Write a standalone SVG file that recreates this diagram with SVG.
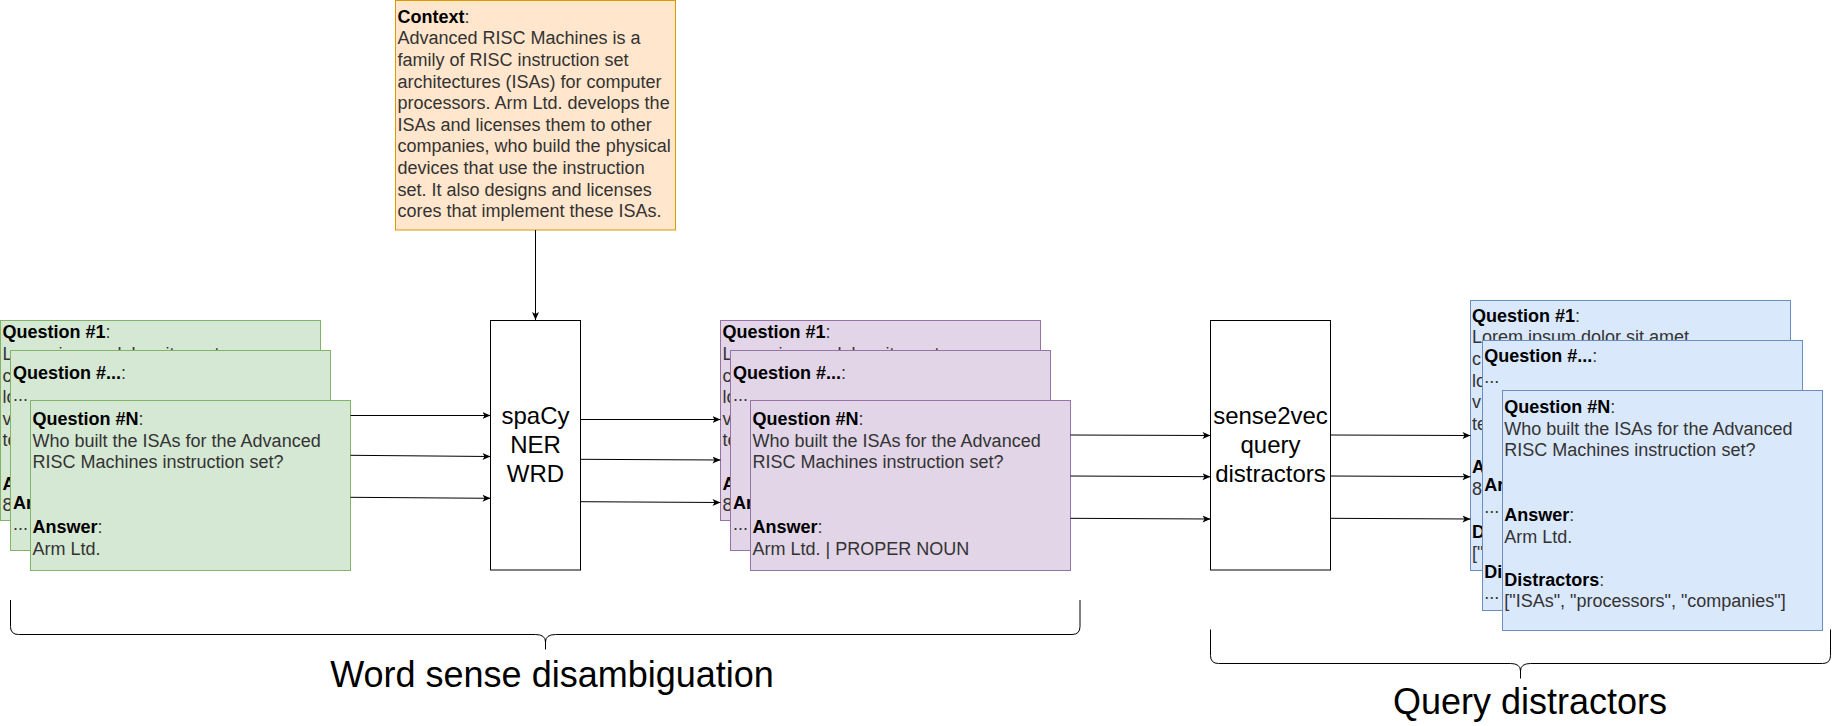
<svg xmlns="http://www.w3.org/2000/svg" width="1842" height="726" viewBox="0 0 1842 726">
<style>
text{font-family:"Liberation Sans",Arial,Helvetica,sans-serif}
.t{font-size:18px;fill:#333}
.b{font-weight:bold;fill:#000}
.g{fill:#d5e8d4;stroke:#82b366;stroke-width:1}
.p{fill:#e1d5e7;stroke:#9673a6;stroke-width:1}
.bl{fill:#dae8fc;stroke:#6c8ebf;stroke-width:1}
.o{fill:#ffe6cc;stroke:#d79b00;stroke-width:1}
.w{fill:#fff;stroke:#000;stroke-width:1}
.e{fill:none;stroke:#000;stroke-width:1}
.big{font-size:24px;fill:#000;text-anchor:middle}
.lbl{font-size:36px;fill:#000;text-anchor:middle}
</style>
<defs>
<marker id="arr" viewBox="0 0 8 8" refX="8" refY="4" markerWidth="8" markerHeight="8" markerUnits="userSpaceOnUse" orient="auto">
<path d="M0,0.5 L8,4 L0,7.5 L2,4 Z" fill="#000"/>
</marker>
</defs>

<g id="context">
<rect class="o" x="395.5" y="0.5" width="280" height="229.5"/>
<text class="t" x="397.5" y="22.7"><tspan class="b">Context</tspan>:</text>
<text class="t" x="397.5" y="44.3">Advanced RISC Machines is a</text>
<text class="t" x="397.5" y="65.9">family of RISC instruction set</text>
<text class="t" x="397.5" y="87.5">architectures (ISAs) for computer</text>
<text class="t" x="397.5" y="109.1">processors. Arm Ltd. develops the</text>
<text class="t" x="397.5" y="130.7">ISAs and licenses them to other</text>
<text class="t" x="397.5" y="152.3">companies, who build the physical</text>
<text class="t" x="397.5" y="173.9">devices that use the instruction</text>
<text class="t" x="397.5" y="195.5">set. It also designs and licenses</text>
<text class="t" x="397.5" y="217.1">cores that implement these ISAs.</text>
</g>

<g id="green-q1">
<rect class="g" x="0.5" y="320.5" width="320" height="200"/>
<text class="t" x="2.5" y="338.3"><tspan class="b">Question #1</tspan>:</text>
<text class="t" x="2.5" y="359.9">Lorem ipsum dolor sit amet,</text>
<text class="t" x="2.5" y="381.5">c</text>
<text class="t" x="2.5" y="403.1">lo</text>
<text class="t" x="2.5" y="424.7">v</text>
<text class="t" x="2.5" y="446.3">te</text>
<text class="t b" x="2.5" y="489.5">A</text>
<text class="t" x="2.5" y="511.1">8</text>
</g>
<g id="green-q2">
<rect class="g" x="10.5" y="350.5" width="320" height="200"/>
<text class="t" x="13" y="379"><tspan class="b">Question #...</tspan>:</text>
<text class="t" x="13" y="400.6">...</text>
<text class="t b" x="13" y="508.6">Ar</text>
<text class="t" x="13" y="530.2">...</text>
</g>
<g id="green-qn">
<rect class="g" x="30.5" y="400.5" width="320" height="170"/>
<text class="t" x="32.5" y="425"><tspan class="b">Question #N</tspan>:</text>
<text class="t" x="32.5" y="446.6">Who built the ISAs for the Advanced</text>
<text class="t" x="32.5" y="468.2">RISC Machines instruction set?</text>
<text class="t" x="32.5" y="533"><tspan class="b">Answer</tspan>:</text>
<text class="t" x="32.5" y="554.6">Arm Ltd.</text>
</g>

<g id="spacy">
<rect class="w" x="490.5" y="320.5" width="90" height="249.5"/>
<text class="big" x="535.5" y="424">spaCy</text>
<text class="big" x="535.5" y="453">NER</text>
<text class="big" x="535.5" y="482">WRD</text>
</g>

<g id="purple-q1">
<rect class="p" x="720.5" y="320.5" width="320" height="200"/>
<text class="t" x="722.5" y="338.3"><tspan class="b">Question #1</tspan>:</text>
<text class="t" x="722.5" y="359.9">Lorem ipsum dolor sit amet,</text>
<text class="t" x="722.5" y="381.5">c</text>
<text class="t" x="722.5" y="403.1">lo</text>
<text class="t" x="722.5" y="424.7">v</text>
<text class="t" x="722.5" y="446.3">te</text>
<text class="t b" x="722.5" y="489.5">A</text>
<text class="t" x="722.5" y="511.1">8</text>
</g>
<g id="purple-q2">
<rect class="p" x="730.5" y="350.5" width="320" height="200"/>
<text class="t" x="733" y="379"><tspan class="b">Question #...</tspan>:</text>
<text class="t" x="733" y="400.6">...</text>
<text class="t b" x="733" y="508.6">Ar</text>
<text class="t" x="733" y="530.2">...</text>
</g>
<g id="purple-qn">
<rect class="p" x="750.5" y="400.5" width="320" height="170"/>
<text class="t" x="752.5" y="425"><tspan class="b">Question #N</tspan>:</text>
<text class="t" x="752.5" y="446.6">Who built the ISAs for the Advanced</text>
<text class="t" x="752.5" y="468.2">RISC Machines instruction set?</text>
<text class="t" x="752.5" y="533"><tspan class="b">Answer</tspan>:</text>
<text class="t" x="752.5" y="554.6">Arm Ltd. | PROPER NOUN</text>
</g>

<g id="sense2vec">
<rect class="w" x="1210.5" y="320.5" width="120" height="249.5"/>
<text class="big" x="1270.5" y="424">sense2vec</text>
<text class="big" x="1270.5" y="453">query</text>
<text class="big" x="1270.5" y="482">distractors</text>
</g>

<g id="blue-q1">
<rect class="bl" x="1470.5" y="300.5" width="320" height="270"/>
<text class="t" x="1472" y="321.7"><tspan class="b">Question #1</tspan>:</text>
<text class="t" x="1472" y="343.3">Lorem ipsum dolor sit amet,</text>
<text class="t" x="1472" y="364.9">c</text>
<text class="t" x="1472" y="386.5">lo</text>
<text class="t" x="1472" y="408.1">v</text>
<text class="t" x="1472" y="429.7">te</text>
<text class="t b" x="1472" y="472.9">A</text>
<text class="t" x="1472" y="494.5">8</text>
<text class="t b" x="1472" y="537.7">D</text>
<text class="t" x="1472" y="559.3">["</text>
</g>
<g id="blue-q2">
<rect class="bl" x="1482.5" y="340.5" width="320" height="270"/>
<text class="t" x="1484.3" y="361.7"><tspan class="b">Question #...</tspan>:</text>
<text class="t" x="1484.3" y="383.3">...</text>
<text class="t b" x="1484.3" y="491.3">Ar</text>
<text class="t" x="1484.3" y="512.9">...</text>
<text class="t b" x="1484.3" y="577.7">Di</text>
<text class="t" x="1484.3" y="599.3">...</text>
</g>
<g id="blue-qn">
<rect class="bl" x="1502.5" y="390.5" width="320" height="240"/>
<text class="t" x="1504.3" y="413"><tspan class="b">Question #N</tspan>:</text>
<text class="t" x="1504.3" y="434.6">Who built the ISAs for the Advanced</text>
<text class="t" x="1504.3" y="456.2">RISC Machines instruction set?</text>
<text class="t" x="1504.3" y="521"><tspan class="b">Answer</tspan>:</text>
<text class="t" x="1504.3" y="542.6">Arm Ltd.</text>
<text class="t" x="1504.3" y="585.8"><tspan class="b">Distractors</tspan>:</text>
<text class="t" x="1504.3" y="607.4">["ISAs", "processors", "companies"]</text>
</g>

<g id="connectors">
<path class="e" d="M535.5 230 L535.5 320" marker-end="url(#arr)"/>
<path class="e" d="M350.5 415.5 L490.5 415.5" marker-end="url(#arr)"/>
<path class="e" d="M350.5 455.3 L490.5 456.5" marker-end="url(#arr)"/>
<path class="e" d="M350.5 497.3 L490.5 498.3" marker-end="url(#arr)"/>
<path class="e" d="M580.5 419.5 L720.5 419.5" marker-end="url(#arr)"/>
<path class="e" d="M580.5 459.3 L720.5 460" marker-end="url(#arr)"/>
<path class="e" d="M580.5 501.7 L720.5 502.5" marker-end="url(#arr)"/>
<path class="e" d="M1070.5 435 L1210.5 435.5" marker-end="url(#arr)"/>
<path class="e" d="M1070.5 476 L1210.5 476.7" marker-end="url(#arr)"/>
<path class="e" d="M1070.5 518.3 L1210.5 519" marker-end="url(#arr)"/>
<path class="e" d="M1330.5 435 L1470.5 435.5" marker-end="url(#arr)"/>
<path class="e" d="M1330.5 476 L1470.5 476.7" marker-end="url(#arr)"/>
<path class="e" d="M1330.5 518.3 L1470.5 519" marker-end="url(#arr)"/>
</g>

<g id="brace-wsd">
<path class="e" d="M10.5 600 L10.5 626.5 Q10.5 634.5 18.5 634.5 L535.5 634.5 Q545.5 634.5 545.5 642 L545.5 649.5 M545.5 642 Q545.5 634.5 555.5 634.5 L1072 634.5 Q1080 634.5 1080 626.5 L1080 600"/>
<text class="lbl" x="552" y="687">Word sense disambiguation</text>
</g>
<g id="brace-qd">
<path class="e" d="M1210.5 629.5 L1210.5 655.5 Q1210.5 663.5 1218.5 663.5 L1510.5 663.5 Q1520.5 663.5 1520.5 671 L1520.5 678.5 M1520.5 671 Q1520.5 663.5 1530.5 663.5 L1822.5 663.5 Q1830.5 663.5 1830.5 655.5 L1830.5 629.5"/>
<text class="lbl" x="1530" y="714">Query distractors</text>
</g>
</svg>
